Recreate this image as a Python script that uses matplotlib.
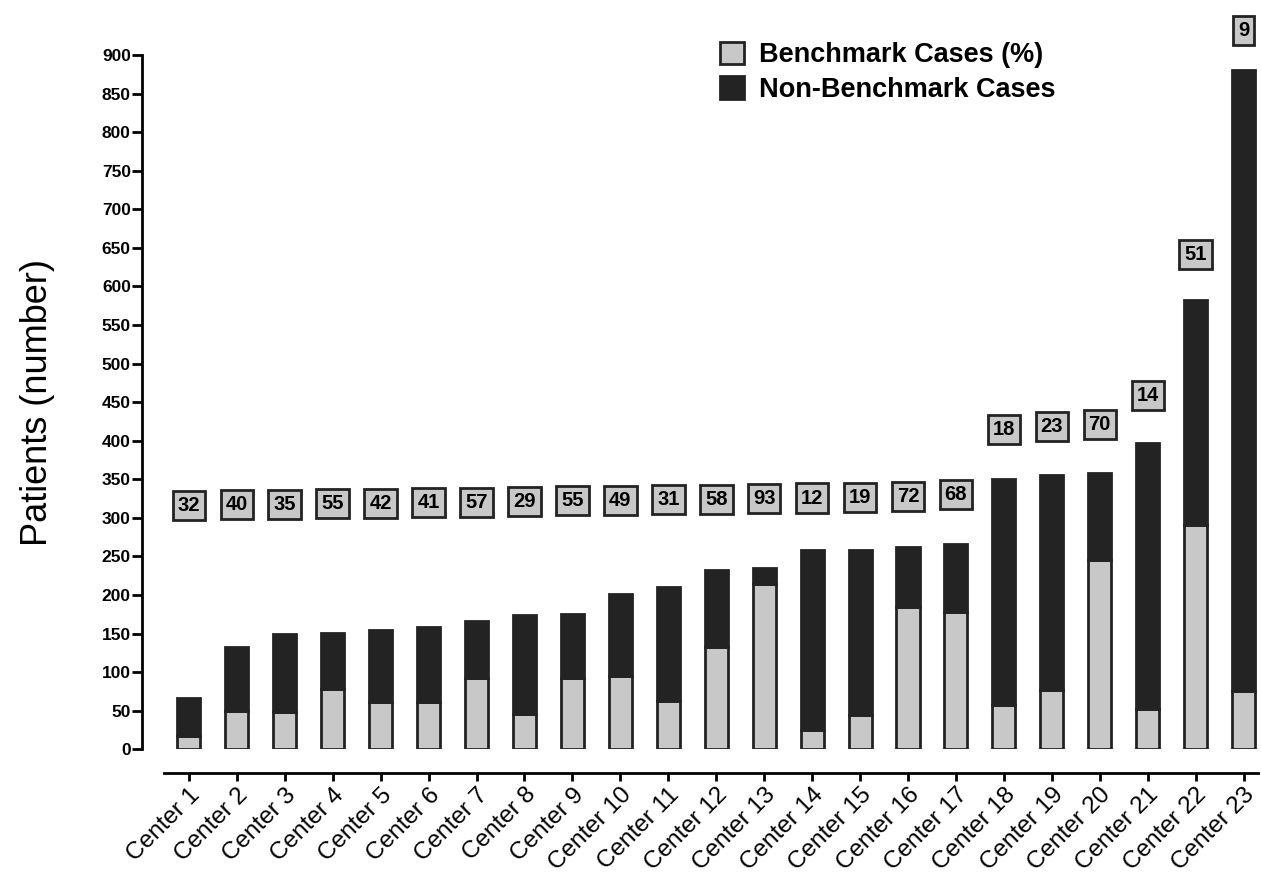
import matplotlib
matplotlib.use("Agg")
import matplotlib.pyplot as plt
import numpy as np
from matplotlib.patches import Patch

plt.rcParams['font.family'] = ['Liberation Sans', 'DejaVu Sans']

centers = ["Center 1", "Center 2", "Center 3", "Center 4", "Center 5", "Center 6",
           "Center 7", "Center 8", "Center 9", "Center 10", "Center 11", "Center 12",
           "Center 13", "Center 14", "Center 15", "Center 16", "Center 17", "Center 18",
           "Center 19", "Center 20", "Center 21", "Center 22", "Center 23"]
total = [67, 132, 149, 151, 154, 159, 166, 174, 175, 201, 211, 232,
         235, 258, 258, 262, 266, 351, 355, 358, 397, 583, 880]
benchmark = [17, 49, 48, 78, 61, 61, 92, 46, 93, 95, 62, 132,
             214, 25, 45, 184, 178, 58, 77, 246, 52, 291, 75]
bench_pct = [32, 40, 35, 55, 42, 41, 57, 29, 55, 49, 31, 58,
             93, 12, 19, 72, 68, 18, 23, 70, 14, 51, 9]

light = "#c8c8c8"
dark = "#232323"

x = np.arange(len(centers))
total = np.array(total)
benchmark = np.array(benchmark)
non_bench = total - benchmark

fig = plt.figure(figsize=(12.61, 8.74), dpi=100)
ax = fig.add_axes([0.130, 0.1427, 0.8676, 0.7943])

ax.bar(x, benchmark, width=0.48, color=light, edgecolor=dark, linewidth=2)
ax.bar(x, non_bench, width=0.48, bottom=benchmark, color=dark, edgecolor=dark, linewidth=2)

# percentage boxes above the bars
for i, (t, p) in enumerate(zip(total, bench_pct)):
    y = max(0.98 * t + 70, 316 + 0.75 * i)
    ax.text(i, y, str(p), ha='center', va='center', fontsize=14.5, fontweight='bold',
            clip_on=False,
            bbox=dict(boxstyle='square,pad=0.25', facecolor=light, edgecolor=dark, linewidth=2))

ax.set_xlim(-0.52, 22.3)
ax.set_ylim(0, 900)
ax.set_yticks(np.arange(0, 901, 50))
ax.set_xticks(x)
ax.set_xticklabels(centers)

ax.spines['top'].set_visible(False)
ax.spines['right'].set_visible(False)
ax.spines['left'].set_position(('outward', 15.8))
ax.spines['bottom'].set_position(('outward', 16.8))
ax.spines['left'].set_bounds(0, 900)
ax.spines['left'].set_linewidth(2)
ax.spines['bottom'].set_linewidth(2)
ax.tick_params(axis='y', length=7, width=2, pad=1, labelsize=12.5)
ax.tick_params(axis='x', length=6, width=2, pad=2, labelsize=17.5, labelrotation=45)
for lab in ax.get_yticklabels():
    lab.set_fontweight('bold')
for lab in ax.get_xticklabels():
    lab.set_horizontalalignment('right')
    lab.set_rotation_mode('anchor')

ax.set_ylabel("Patients (number)", fontsize=26)
ax.yaxis.set_label_coords(-0.1, 0.5)

handles = [Patch(facecolor=light, edgecolor=dark, linewidth=2, label="Benchmark Cases (%)"),
           Patch(facecolor=dark, edgecolor=dark, linewidth=2, label="Non-Benchmark Cases")]
fig.legend(handles=handles, loc='upper left', bbox_to_anchor=(0.571, 0.952),
           frameon=False, prop={'size': 19.5, 'weight': 'bold'},
           handlelength=0.88, handleheight=0.88, handletextpad=0.55,
           labelspacing=0.3, borderpad=0, borderaxespad=0)

fig.savefig("out.png", dpi=100)
